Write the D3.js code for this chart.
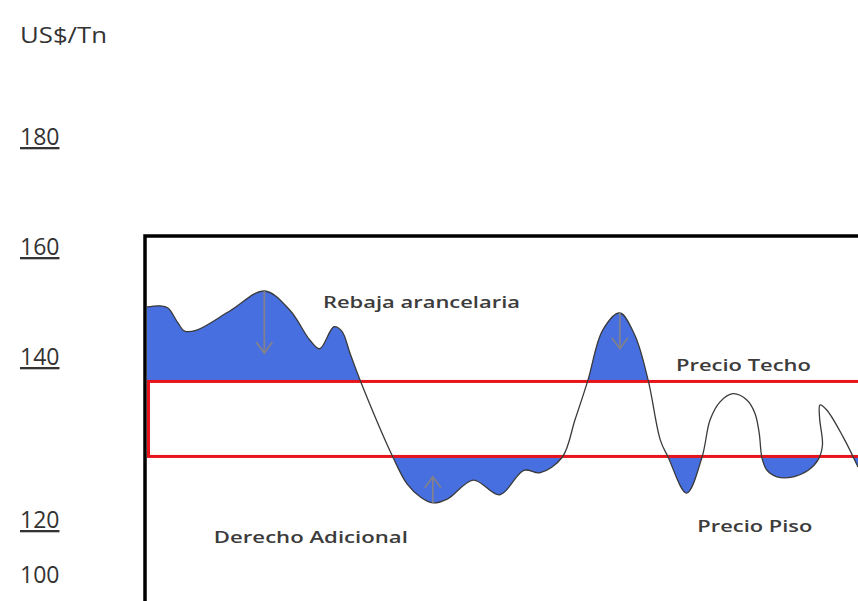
<!DOCTYPE html>
<html>
<head>
    <meta charset="utf-8">
    <title>Precio techo y precio piso</title>
    <style>
        body { margin: 0; background: #fff; }
        svg { display: block; font-family: "Open Sans", sans-serif; }
    </style>
    <script src="https://cdnjs.cloudflare.com/ajax/libs/d3/7.8.5/d3.min.js"></script>
</head>
<body>
<script>
    const width = 858
    const height = 601

    // eje vertical, tal como aparece en el grafico
    const yTicks = [180, 160, 140, 120, 100]
    const yTickUnderlined = [true, true, true, true, false]
    const yUnit = "US$/Tn"

    // banda de precios
    const precioTecho = 137
    const precioPiso = 127.8
    const frameTop = 162

    // precio internacional: t = tiempo (0-100), p = US$/Tn
    const curveT = [0, 1.8, 2.95, 4.3, 5.3, 7, 11.7, 16.5, 20.1, 22.9, 24.3, 26.3, 27.4, 28.55, 30.0,
        34.6, 36.6, 38.5, 40.2, 42.3, 45.9, 49.6, 53.0, 55.3, 58.4,
        60.2, 62.0, 64.1, 66.5, 68.6, 70.5, 72.2, 73.3, 75.9, 78.06,
        79.2, 80.6, 82.4, 84.4, 85.5, 86.1, 86.5, 87.2, 88.6, 90.9, 93.0,
        94.4, 95.0, 94.6, 94.65, 95.6, 97.9, 100]
    const curveP = [149.1, 149.3, 148.9, 146.3, 144.7, 144.9, 148.4, 152.0, 148.5, 143.1, 141.5, 145.5, 144.7, 140.7, 137.1,
        127.7, 124.4, 122.8, 122.1, 122.6, 124.9, 123.1, 126.1, 125.8, 127.7,
        132.3, 137.1, 144.9, 148.0, 144.0, 137.1, 129.8, 127.7, 123.3, 127.7,
        132.3, 134.5, 135.5, 134.7, 133.1, 130.7, 127.6, 126.1, 125.3, 125.3, 126.1,
        127.4, 129.2, 132.5, 134.1, 133.5, 130.2, 126.5]

    // flechas (t, desde, hasta)
    const arrowT = [16.5, 66.5, 40.2]
    const arrowFrom = [152.0, 148.0, 122.1]
    const arrowTo = [140.7, 141.5, 125.3]

    // textos
    const labelText = ["Rebaja arancelaria", "Precio Techo", "Derecho Adicional", "Precio Piso"]
    const labelT = [24.75, 74.4, 9.4, 77.4]
    const labelP = [148.9, 138.3, 111.6, 115.6]

    const labelWidth = [197, 135, 194, 115]
    const blue = "#476fe0"
    const red = "#e8141c"

    const svg = d3.select("body").append("svg")
        .attr("width", width)
        .attr("height", height)

    let x = d3.scaleLinear()
        .domain([0, 100])
        .range([147, 858])
    // escala por tramos: las marcas del eje no estan equiespaciadas
    let y = d3.scaleLinear()
        .domain([100, 120, 140, 160, 180])
        .range([575, 520, 357, 247, 137])

    let points = d3.zip(curveT, curveP)
    let line = d3.line()
        .x(d => x(d[0]))
        .y(d => y(d[1]))
        .curve(d3.curveCatmullRom.alpha(0.5))
    let curvePath = line(points)

    let defs = svg.append("defs")
    defs.append("clipPath").attr("id", "above")
        .append("rect")
            .attr("x", x(0))
            .attr("y", y(frameTop))
            .attr("width", width)
            .attr("height", y(precioTecho) - y(frameTop))
    defs.append("clipPath").attr("id", "below")
        .append("rect")
            .attr("x", x(0))
            .attr("y", y(precioPiso))
            .attr("width", width)
            .attr("height", height - y(precioPiso))

    // zona por encima del techo (rebaja arancelaria)
    svg.append("path")
        .attr("d", curvePath + `L${x(100) + 20},${height + 20}L${x(0)},${height + 20}Z`)
        .attr("fill", blue)
        .attr("clip-path", "url(#above)")

    // zona por debajo del piso (derecho adicional)
    svg.append("path")
        .attr("d", curvePath + `L${x(100) + 20},${y(frameTop)}L${x(0)},${y(frameTop)}Z`)
        .attr("fill", blue)
        .attr("clip-path", "url(#below)")

    // banda de precios
    svg.append("rect")
        .attr("x", x(0) + 1.5)
        .attr("y", y(precioTecho))
        .attr("width", width)
        .attr("height", y(precioPiso) - y(precioTecho))
        .attr("fill", "none")
        .attr("stroke", red)
        .attr("stroke-width", 3)

    // curva de precios
    svg.append("path")
        .attr("d", curvePath)
        .attr("fill", "none")
        .attr("stroke", "#3a3a3a")
        .attr("stroke-width", 1.3)

    // flechas
    let arrows = d3.zip(arrowT, arrowFrom, arrowTo)
    svg.selectAll(".arrow")
        .data(arrows)
        .enter()
        .append("path")
            .attr("class", "arrow")
            .attr("d", d => {
                let ax = x(d[0]), y0 = y(d[1]), y1 = y(d[2])
                let dir = y1 > y0 ? 1 : -1
                return `M${ax},${y0}L${ax},${y1}M${ax - 8},${y1 - dir * 11}L${ax},${y1}L${ax + 8},${y1 - dir * 11}`
            })
            .attr("fill", "none")
            .attr("stroke", "#80808e")
            .attr("stroke-width", 1.8)

    // marco
    svg.append("path")
        .attr("d", `M${x(0) - 2},${height + 5}L${x(0) - 2},${y(frameTop)}L${width + 5},${y(frameTop)}`)
        .attr("fill", "none")
        .attr("stroke", "#000")
        .attr("stroke-width", 3.5)

    // etiquetas del eje
    svg.append("text")
        .attr("x", 20)
        .attr("y", 43)
        .attr("font-size", 22)
        .attr("fill", "#333")
        .attr("textLength", 87)
        .attr("lengthAdjust", "spacingAndGlyphs")
        .text(yUnit)

    svg.selectAll(".tick")
        .data(d3.zip(yTicks, yTickUnderlined))
        .enter()
        .append("text")
            .attr("class", "tick")
            .attr("x", 20)
            .attr("y", d => y(d[0]) + 8)
            .attr("font-size", 23)
            .attr("fill", "#333")
            .style("text-decoration", d => d[1] ? "underline" : "none")
            .text(d => d[0])

    // textos del grafico
    svg.selectAll(".label")
        .data(d3.zip(labelText, labelT, labelP, labelWidth))
        .enter()
        .append("text")
            .attr("class", "label")
            .attr("x", d => x(d[1]))
            .attr("y", d => y(d[2]))
            .attr("font-size", 16.5)
            .attr("font-weight", 600)
            .attr("fill", "#3c3c3c")
            .attr("textLength", d => d[3])
            .attr("lengthAdjust", "spacingAndGlyphs")
            .text(d => d[0])
</script>
</body>
</html>
